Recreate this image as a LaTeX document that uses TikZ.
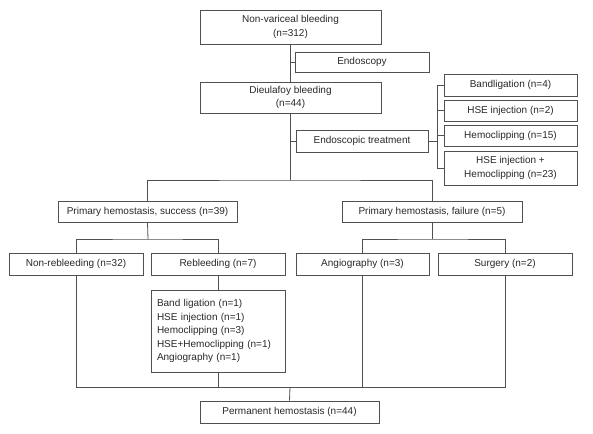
\documentclass[tikz,border=0pt]{standalone}
\usepackage{fontspec}
\setmainfont{Liberation Sans}
\definecolor{linegray}{RGB}{80,80,80}
\definecolor{textgray}{RGB}{40,40,40}
\tikzset{
  box/.style={draw=linegray, line width=0.8pt, inner sep=2pt, align=center,
    text=textgray, font=\fontsize{10}{13.5}\selectfont},
  link/.style={draw=linegray, line width=0.8pt}
}
\begin{document}
\begin{tikzpicture}[x=1pt,y=-1pt]
        \useasboundingbox (0,0) rectangle (593,433);
        \node[box, minimum width=181, minimum height=34] (nonvar) at (290.5,27) {Non-variceal bleeding\\(n=312)};
        \node[box, minimum width=134, minimum height=20] (endo) at (362,62) {Endoscopy};
        \node[box, minimum width=181, minimum height=31] (dieul) at (290.5,97.5) {Dieulafoy bleeding\\(n=44)};
        \node[box, minimum width=132, minimum height=22] (treat) at (362,141) {Endoscopic treatment};
        \node[box, minimum width=133, minimum height=22] (band) at (510.5,85) {Bandligation (n=4)};
        \node[box, minimum width=133, minimum height=21] (hseinj) at (510.5,110.5) {HSE injection (n=2)};
        \node[box, minimum width=133, minimum height=21] (hemo) at (510.5,135.5) {Hemoclipping (n=15)};
        \node[box, minimum width=133, minimum height=34] (combo) at (510.5,168) {HSE injection +\\Hemoclipping (n=23)};
        \node[box, minimum width=179, minimum height=21] (success) at (147.5,211.5) {Primary hemostasis, success (n=39)};
        \node[box, minimum width=180, minimum height=21] (failure) at (432,211.5) {Primary hemostasis, failure (n=5)};
        \node[box, minimum width=134, minimum height=22] (nonreb) at (76,264) {Non-rebleeding (n=32)};
        \node[box, minimum width=134, minimum height=22] (reb) at (218,264) {Rebleeding (n=7)};
        \node[box, minimum width=133, minimum height=22] (angio) at (362.5,264) {Angiography (n=3)};
        \node[box, minimum width=134, minimum height=22] (surgery) at (505,264) {Surgery (n=2)};
        \node[box, minimum width=134, minimum height=82, inner sep=6pt, text width=122, align=left] (list) at (218,331)
          {Band ligation (n=1)\\HSE injection (n=1)\\Hemoclipping (n=3)\\HSE+Hemoclipping (n=1)\\Angiography (n=1)};
        \node[box, minimum width=179, minimum height=22] (perm) at (289.5,412) {Permanent hemostasis (n=44)};
        \coordinate (split) at (290,180);
        \coordinate (brk) at (437,141);
        \coordinate (sjoin) at (148,239);
        \coordinate (fjoin) at (432,239);
        \coordinate (merge) at (290,387);
        % trunk
        \draw[link] (nonvar.south -| split) -- (dieul.north -| split);
        \draw[link] (dieul.south -| split) -- (split);
        \draw[link] (endo.west) -- (endo.west -| split);
        \draw[link] (treat.west) -- (treat.west -| split);
        % treatment options
        \draw[link] (treat.east) -- (brk);
        \draw[link] (band.west) -| (brk |- combo.west) -- (combo.west);
        \draw[link] (hseinj.west) -- (hseinj.west -| brk);
        \draw[link] (hemo.west) -- (hemo.west -| brk);
        % primary hemostasis
        \draw[link] (success.north) |- (split) -| (failure.north);
        \draw[link] (success.south) -- (sjoin);
        \draw[link] (nonreb.north) |- (sjoin) -| (reb.north);
        \draw[link] (failure.south) -- (fjoin);
        \draw[link] (angio.north) |- (fjoin) -| (surgery.north);
        \draw[link] (reb.south) -- (list.north);
        % permanent hemostasis
        \draw[link] (nonreb.south) |- (surgery.south |- merge) -- (surgery.south);
        \draw[link] (list.south) -- (list.south |- merge);
        \draw[link] (angio.south) -- (angio.south |- merge);
        \draw[link] (merge) -- (perm.north);
      \end{tikzpicture}
\end{document}
